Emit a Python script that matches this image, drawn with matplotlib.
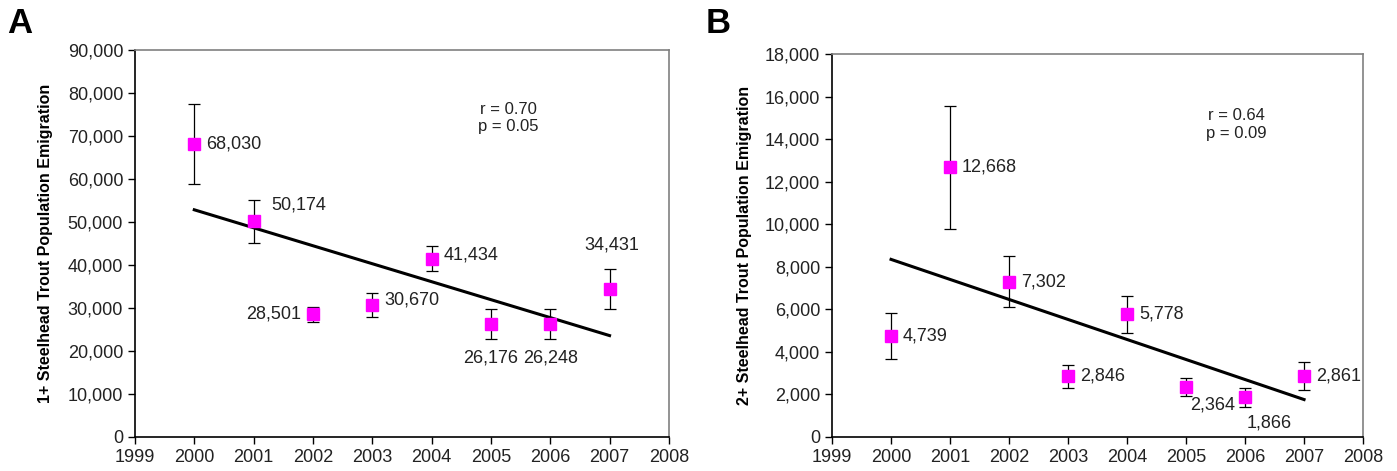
import matplotlib
matplotlib.use('Agg')
import matplotlib.pyplot as plt
from matplotlib.ticker import FuncFormatter
import numpy as np

plt.rcParams['font.family'] = ['Liberation Sans', 'DejaVu Sans']

# Datos
years = [2000, 2001, 2002, 2003, 2004, 2005, 2006, 2007]

one_plus = [68030, 50174, 28501, 30670, 41434, 26176, 26248, 34431]
one_plus_err = [9300, 5000, 1700, 2800, 2900, 3500, 3500, 4700]

two_plus = [4739, 12668, 7302, 2846, 5778, 2364, 1866, 2861]
two_plus_err = [1070, 2900, 1200, 550, 870, 420, 450, 650]

# offsets de las etiquetas (pixeles) y alineacion
offs_a = [(12, 0, 'left'), (18, 16, 'left'), (-12, 0, 'right'), (12, 5, 'left'),
          (12, 4, 'left'), (0, -34, 'center'), (0, -34, 'center'), (2, 44, 'center')]
offs_b = [(12, 0, 'left'), (12, 0, 'left'), (12, 0, 'left'), (12, 0, 'left'),
          (12, 0, 'left'), (4, -18, 'left'), (2, -26, 'left'), (12, 0, 'left')]

MAGENTA = '#FF00FF'
GRIS = '#808080'


def panel(ax, vals, errs, ymax, ystep, ylabel, offs, stats, stats_xy):
    x = np.array(years)
    y = np.array(vals)
    ax.errorbar(x, y, yerr=errs, fmt='none', ecolor='black', elinewidth=0.9,
                capsize=4, capthick=0.9, zorder=2)
    ax.plot(x, y, 's', color=MAGENTA, markersize=9, zorder=3)

    m, b = np.polyfit(x - 2000, y, 1)
    ax.plot([x[0], x[-1]], [b, b + m * (x[-1] - 2000)], color='black', lw=2.2, zorder=1)

    for xi, yi, (dx, dy, ha) in zip(x, y, offs):
        ax.annotate(f'{yi:,}', (xi, yi), xytext=(dx, dy), textcoords='offset pixels',
                    ha=ha, va='center', fontsize=13, color='#222222')

    ax.text(stats_xy[0], stats_xy[1], stats, ha='center', va='top', fontsize=12,
            color='#222222', linespacing=1.2)

    ax.set_xlim(1999, 2008)
    ax.set_ylim(0, ymax)
    ax.set_xticks(range(1999, 2009))
    ax.set_yticks(np.arange(0, ymax + 1, ystep))
    ax.yaxis.set_major_formatter(FuncFormatter(lambda v, p: f'{int(v):,}'))
    ax.tick_params(direction='out', length=5, width=1, labelsize=13, colors='black',
                   labelcolor='#222222')
    for s in ['top', 'right']:
        ax.spines[s].set_color(GRIS)
        ax.spines[s].set_linewidth(1.2)
    for s in ['left', 'bottom']:
        ax.spines[s].set_color('black')
        ax.spines[s].set_linewidth(1.2)
    ax.set_ylabel(ylabel, fontsize=11.5, fontweight='bold')


fig = plt.figure(figsize=(13.97, 4.71), dpi=100)
ax1 = fig.add_axes([0.0966, 0.0722, 0.3822, 0.8217])
ax2 = fig.add_axes([0.5956, 0.0722, 0.3801, 0.8132])

panel(ax1, one_plus, one_plus_err, 90000, 10000,
      '1+ Steelhead Trout Population Emigration', offs_a,
      'r = 0.70\np = 0.05', (2005.3, 77900))
panel(ax2, two_plus, two_plus_err, 18000, 2000,
      '2+ Steelhead Trout Population Emigration', offs_b,
      'r = 0.64\np = 0.09', (2005.85, 15450))

ax1.yaxis.set_label_coords(-0.154, 0.5)
ax2.yaxis.set_label_coords(-0.151, 0.5)

fig.text(0.005, 0.985, 'A', fontsize=25, fontweight='bold', va='top', ha='left')
fig.text(0.505, 0.985, 'B', fontsize=25, fontweight='bold', va='top', ha='left')

fig.savefig('out.png', dpi=100)
